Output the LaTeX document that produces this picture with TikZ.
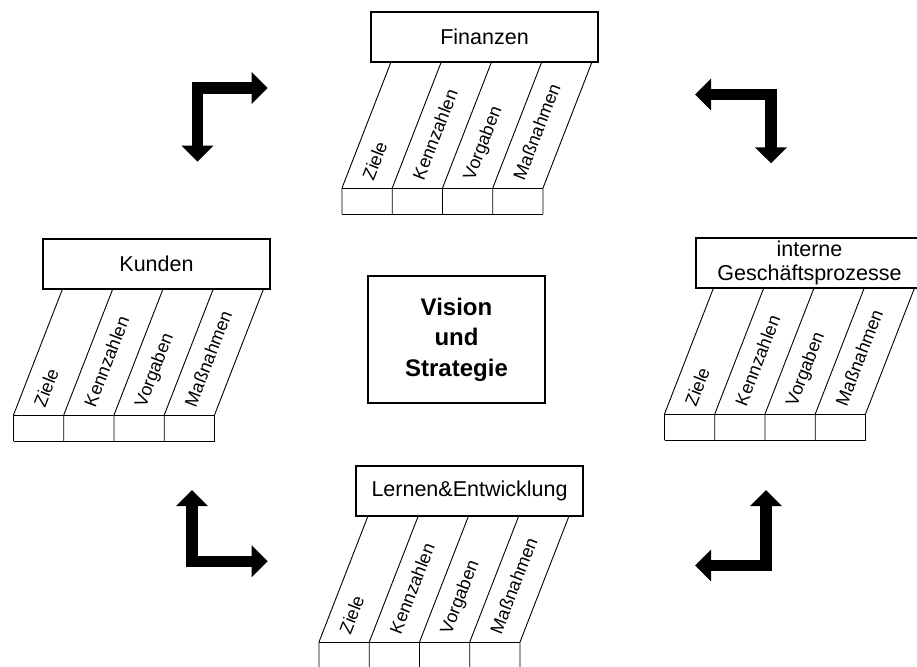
\documentclass[tikz,border=0pt]{standalone}
\usepackage{fontspec}
\setmainfont{Liberation Sans}
\usetikzlibrary{calc,arrows.meta}

\tikzset{
  titlebox/.style={draw, line width=1.7pt, outer sep=0pt, inner sep=0pt,
    minimum width=227pt, minimum height=50pt, align=center, anchor=north west,
    font=\fontsize{21.5}{24.5}\selectfont},
  slant/.style={line width=0.9pt},
  collabel/.style={rotate=68.75, anchor=west, inner sep=0pt,
    text height=0.7em, text depth=0pt, font=\fontsize{18}{20}\selectfont},
  cyclearrow/.style={line width=11.5pt, line join=miter,
    {Triangle[width=31pt,length=16pt]}-{Triangle[width=31pt,length=16pt]}},
  visionbox/.style={draw, line width=1.3pt, minimum width=177pt,
    minimum height=127pt, align=center,
    font=\fontsize{24}{30.5}\selectfont\bfseries}
}

% One perspective: title box, slanted strip of four columns, row of cells
% #1 name, #2 left x, #3 top y, #4 offset of the strip, #5 title
\newcommand\bscpersp[5]{%
  \node[titlebox] (#1) at (#2,#3) {#5};
  \foreach \i in {0,...,4}{
    \coordinate (#1-t\i) at ($(#1.south west)+(#4+50.25*\i,0)$);
    \coordinate (#1-b\i) at ($(#1-t\i)+(-49,126)$);
    \coordinate (#1-c\i) at ($(#1-b\i)+(0,26)$);
  }
  \foreach \i in {0,...,4}
    \draw[slant] (#1-t\i) -- (#1-b\i) -- (#1-c\i);
  \draw[slant] (#1-b0) -- (#1-b4);
  \draw[slant] (#1-c0) -- (#1-c4);
  \foreach \i/\j/\txt in {0/1/Ziele,1/2/Kennzahlen,2/3/Vorgaben,3/4/Maßnahmen}
    \node[collabel] (#1-l\i) at ($(#1-b\i)!0.5!(#1-b\j)+(3.1,-8.0)$) {\txt};
}

\begin{document}
\begin{tikzpicture}[x=1pt,y=-1pt]
  \clip (0,0) rectangle (917,666);
  \fill[white] (0,0) rectangle (917,666);

  \bscpersp{fin}{371}{12}{20}{Finanzen}
  \bscpersp{kun}{43}{239}{19.5}{Kunden}
  \bscpersp{int}{696}{238}{17.5}{interne\\Geschäftsprozesse}
  \bscpersp{ler}{356}{466}{12}{Lernen\&Entwicklung}

  \node[visionbox] (vision) at (456.5,339.5) {Vision\\und\\Strategie};

  % cycle arrows between the perspectives
  \coordinate (a1s) at (197.5,161.7);
  \coordinate (a1c) at (197.5,88);
  \coordinate (a1e) at (267.7,88);
  \draw[cyclearrow] (a1s) -- (a1c) -- (a1e);

  \coordinate (a2s) at (695,94.5);
  \coordinate (a2c) at (771,94.5);
  \coordinate (a2e) at (771,163.3);
  \draw[cyclearrow] (a2s) -- (a2c) -- (a2e);

  \coordinate (a3s) at (192,490);
  \coordinate (a3c) at (192,561.3);
  \coordinate (a3e) at (267.7,561.3);
  \draw[cyclearrow] (a3s) -- (a3c) -- (a3e);

  \coordinate (a4s) at (766,490);
  \coordinate (a4c) at (766,565.5);
  \coordinate (a4e) at (695,565.5);
  \draw[cyclearrow] (a4s) -- (a4c) -- (a4e);
\end{tikzpicture}
\end{document}
